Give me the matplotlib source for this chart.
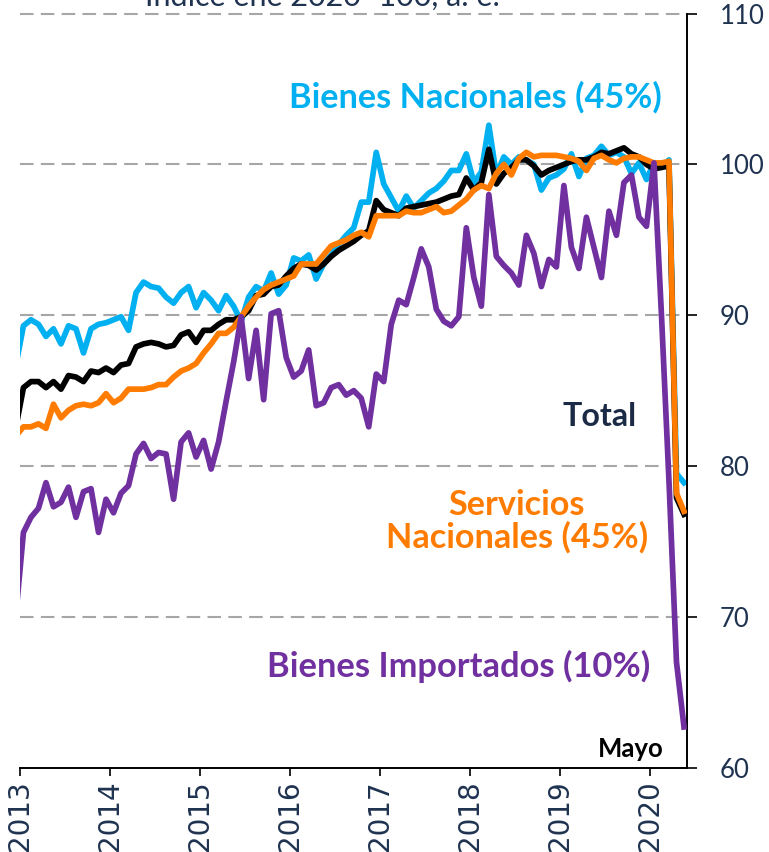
import matplotlib
matplotlib.use("Agg")
import matplotlib.pyplot as plt
import numpy as np

# ---------------- data (monthly, Dec 2012 .. May 2020) ----------------
years = [2013, 2014, 2015, 2016, 2017, 2018, 2019, 2020]
year_labels = [str(y) for y in years]

# first value = Dec 2012 (clipped at the left edge of the chart)
bienes_nacionales = [86.7,
    89.3, 89.7, 89.4, 88.6, 89.1, 88.1, 89.3, 89.1, 87.5, 89.1, 89.4, 89.5,
    89.7, 89.9, 89.0, 91.5, 92.2, 91.9, 91.8, 91.2, 90.8, 91.5, 91.9, 90.5,
    91.5, 91.0, 90.3, 91.3, 90.6, 89.6, 91.2, 91.9, 91.6, 92.8, 91.4, 92.0,
    93.8, 93.6, 94.0, 92.4, 93.4, 94.0, 94.7, 95.3, 95.8, 97.5, 97.5, 100.8,
    98.7, 97.8, 96.9, 97.9, 97.1, 97.6, 98.1, 98.4, 98.9, 99.6, 99.6, 100.7,
    98.8, 99.5, 102.6, 99.3, 100.5, 100.0, 100.5, 100.3, 100.0, 98.3, 99.1, 99.3,
    99.7, 100.7, 99.2, 100.4, 100.6, 101.2, 100.6, 100.8, 100.5, 99.4, 100.1, 99.0,
    100.1, 99.8, 100.3, 79.5, 78.9]

total = [82.6,
    85.2, 85.6, 85.6, 85.2, 85.6, 85.1, 86.0, 85.9, 85.6, 86.3, 86.2, 86.5,
    86.2, 86.7, 86.8, 87.9, 88.1, 88.2, 88.1, 87.9, 88.0, 88.7, 88.9, 88.2,
    89.0, 89.0, 89.4, 89.7, 89.7, 89.9, 90.3, 91.3, 91.4, 91.9, 92.0, 92.6,
    93.1, 93.4, 93.3, 93.0, 93.4, 93.9, 94.3, 94.6, 94.9, 95.3, 95.6, 97.6,
    97.0, 96.8, 96.6, 97.1, 97.2, 97.3, 97.4, 97.5, 97.7, 97.9, 98.0, 99.1,
    98.3, 98.8, 101.0, 98.7, 99.4, 99.8, 100.3, 100.3, 99.9, 99.3, 99.6, 99.8,
    100.0, 100.2, 100.3, 100.3, 100.5, 100.8, 100.7, 100.9, 101.1, 100.7, 100.5, 100.0,
    99.7, 99.8, 99.9, 77.9, 76.8]

servicios_nacionales = [82.0,
    82.6, 82.6, 82.8, 82.5, 84.1, 83.2, 83.7, 84.0, 84.1, 84.0, 84.2, 84.8,
    84.2, 84.5, 85.1, 85.1, 85.1, 85.2, 85.4, 85.4, 85.9, 86.3, 86.5, 86.8,
    87.5, 88.1, 88.8, 88.8, 89.2, 89.9, 90.6, 91.2, 91.7, 92.0, 92.2, 92.4,
    92.6, 93.4, 93.4, 93.4, 94.0, 94.6, 94.8, 95.0, 95.3, 95.5, 95.2, 96.6,
    96.6, 96.6, 96.6, 96.9, 96.8, 96.8, 97.0, 97.2, 96.8, 96.9, 97.3, 97.7,
    98.3, 98.6, 98.4, 99.4, 100.0, 99.3, 100.4, 100.8, 100.5, 100.6, 100.6, 100.6,
    100.5, 100.4, 100.2, 99.6, 100.4, 100.6, 100.3, 100.1, 100.4, 100.5, 100.5, 100.3,
    100.1, 100.1, 100.2, 78.2, 77.0]

bienes_importados = [70.2,
    75.6, 76.6, 77.2, 78.9, 77.3, 77.6, 78.6, 76.6, 78.3, 78.5, 75.6, 77.8,
    76.9, 78.2, 78.7, 80.8, 81.5, 80.5, 80.9, 80.8, 77.8, 81.6, 82.2, 80.6,
    81.7, 79.8, 81.6, 84.3, 86.9, 89.9, 85.8, 89.0, 84.4, 90.1, 90.3, 87.2,
    85.9, 86.3, 87.7, 84.0, 84.2, 85.2, 85.4, 84.7, 85.0, 84.5, 82.6, 86.1,
    85.6, 89.4, 91.0, 90.7, 92.5, 94.4, 93.2, 90.4, 89.6, 89.3, 89.9, 95.8,
    92.5, 90.6, 98.0, 93.9, 93.3, 92.8, 92.0, 95.3, 94.1, 91.9, 93.7, 93.2,
    98.6, 94.5, 93.1, 96.5, 94.5, 92.5, 96.9, 95.3, 98.8, 99.3, 96.5, 95.9,
    100.1, 90.0, 79.0, 67.0, 62.7]

y_ticks = [60, 70, 80, 90, 100, 110]
grid_levels = [70, 80, 90, 100, 110]

# ---------------- styling ----------------
C_CYAN = "#00B0F0"
C_ORANGE = "#FF7C00"
C_PURPLE = "#7030A0"
C_BLACK = "#000000"
C_NAVY = "#1F3350"

W, H = 769, 852
fig = plt.figure(figsize=(W / 100, H / 100), dpi=100)
ax_l, ax_r = 19.7, 687.0
ax_t, ax_b = 13.6, 767.7
ax = fig.add_axes([ax_l / W, 1 - ax_b / H, (ax_r - ax_l) / W, (ax_b - ax_t) / H])

n = len(total)
x = np.arange(n) - 1 + 0.5  # month centres; index 0 = Dec 2012
x_max = 88.9

for lev in grid_levels:
    ax.axhline(lev, color="#A6A6A6", lw=1.5, dashes=(6.5, 3.5), zorder=0.5,
               clip_on=False)

lw = 4.1
ax.plot(x, bienes_nacionales, color=C_CYAN, lw=lw, solid_joinstyle="round", zorder=2)
ax.plot(x, total, color=C_BLACK, lw=lw, solid_joinstyle="round", zorder=3)
ax.plot(x, servicios_nacionales, color=C_ORANGE, lw=lw, solid_joinstyle="round", zorder=4)
ax.plot(x, bienes_importados, color=C_PURPLE, lw=lw, solid_joinstyle="round", zorder=5)

ax.set_xlim(0, x_max)
ax.set_ylim(60, 110)

ax.spines["left"].set_visible(False)
ax.spines["top"].set_visible(False)
ax.spines["right"].set_linewidth(1.4)
ax.spines["bottom"].set_linewidth(1.4)

ax.yaxis.tick_right()
ax.set_yticks(y_ticks)
ax.set_yticklabels([str(v) for v in y_ticks])
ax.tick_params(axis="y", direction="out", length=7, width=1.2, pad=16.5,
               labelsize=18.5, labelcolor=C_NAVY)
for lab in ax.get_yticklabels():
    lab.set_family(["Lato", "DejaVu Sans"])

ax.set_xticks([12 * k for k in range(len(years))])
ax.set_xticklabels(year_labels, rotation=90, family="DejaVu Sans")
ax.tick_params(axis="x", direction="out", length=6, width=1.2, pad=3,
               labelsize=20, labelcolor=C_NAVY)

# ---------------- annotations ----------------
def px_to_data(px, py):
    xd = (px - ax_l) / (ax_r - ax_l) * x_max
    yd = 110 - (py - ax_t) / (ax_b - ax_t) * 50
    return xd, yd

renderer = fig.canvas.get_renderer()

def fit_width(t, target):
    for _ in range(3):
        w = t.get_window_extent(renderer).width
        t.set_fontsize(t.get_fontsize() * target / w)

bold_font = ["Lato", "DejaVu Sans"]

labels = [
    ("Bienes Nacionales (45%)", 475, 97, C_CYAN, 374),
    ("Total", 600, 417, "#1B2A45", 74),
    ("Servicios\nNacionales (45%)", 517, 521, C_ORANGE, 262),
    ("Bienes Importados (10%)", 458.5, 666, C_PURPLE, 383),
]
for s, px, py, col, wt in labels:
    xd, yd = px_to_data(px, py)
    t = ax.text(xd, yd, s, color=col, fontweight="bold", family=bold_font,
                ha="center", va="center", fontsize=20, linespacing=1.0,
                multialignment="center")
    fit_width(t, wt)

xd, yd = px_to_data(631, 749)
t = ax.text(xd, yd, "Mayo", color="black", fontweight="bold",
            family=["Lato", "DejaVu Sans"],
            ha="center", va="center", fontsize=14)
fit_width(t, 66)

title = fig.text(322 / W, 1 - 6 / H, "Índice ene 2020=100, a. e.", color=C_NAVY,
                 ha="center", va="baseline", family=["Lato", "DejaVu Sans"],
                 fontsize=20)
fit_width(title, 355)

fig.savefig("out.png", dpi=100)
